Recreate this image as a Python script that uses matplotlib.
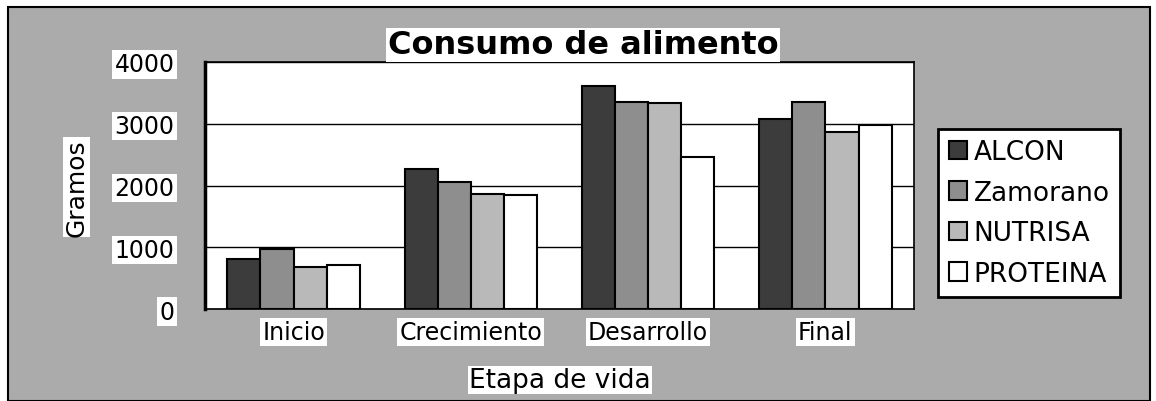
import numpy as np
import matplotlib
matplotlib.use("Agg")
import matplotlib.pyplot as plt
from matplotlib.patches import Rectangle

# ==========================
# Data
# ==========================

etapas = ["Inicio", "Crecimiento", "Desarrollo", "Final"]
series = ["ALCON", "Zamorano", "NUTRISA", "PROTEINA"]

alcon = [810, 2270, 3610, 3080]
zamorano = [970, 2060, 3350, 3350]
nutrisa = [680, 1860, 3340, 2870]
proteina = [710, 1850, 2460, 2980]

y_ticks = [0, 1000, 2000, 3000, 4000]

colores = ["#3c3c3c", "#8e8e8e", "#b9b9b9", "#ffffff"]
fondo = "#ababab"

# ==========================
# Figure
# ==========================

fig = plt.figure(figsize=(11.56, 4.02), dpi=100)
fig.patch.set_facecolor("white")

# gray chart area with frame (behind the axes)
fig.patches.append(
    Rectangle((8 / 1156, 0), 1 - 14 / 1156, 1 - 8 / 402,
              transform=fig.transFigure, facecolor=fondo,
              edgecolor="black", linewidth=1.5, zorder=-10)
)

ax = fig.add_axes([205 / 1156, 1 - 310 / 402, 709 / 1156, 247 / 402])
ax.set_facecolor("white")

x = np.arange(len(etapas))
ancho = 0.187
valores = [alcon, zamorano, nutrisa, proteina]

for i, (nombre, vals) in enumerate(zip(series, valores)):
    ax.bar(x + (i - 1.5) * ancho, vals, width=ancho,
           color=colores[i], edgecolor="black", linewidth=1.5,
           label=nombre, zorder=3)

ax.set_xlim(-0.5, len(etapas) - 0.5)
ax.set_ylim(0, 4000)
ax.set_yticks(y_ticks)
ax.yaxis.grid(True, color="black", linewidth=1.0, zorder=0)
ax.set_axisbelow(True)

lbl_box = dict(facecolor="white", edgecolor="none", pad=1.5)

ax.set_yticklabels([str(v) for v in y_ticks], fontsize=17)
for t in ax.get_yticklabels():
    t.set_bbox(lbl_box)
ax.set_xticks(x)
ax.set_xticklabels(etapas, fontsize=17)
for t in ax.get_xticklabels():
    t.set_bbox(lbl_box)

ax.tick_params(axis="y", length=0, pad=22)
ax.tick_params(axis="x", length=0, pad=8)

for s in ax.spines.values():
    s.set_color("black")
    s.set_linewidth(1.2)
ax.spines["left"].set_linewidth(2.5)

# ==========================
# Titles
# ==========================

fig.text(583 / 1156, 1 - 46 / 402, "Consumo de alimento",
         ha="center", va="center", fontsize=23, fontweight="bold",
         bbox=dict(facecolor="white", edgecolor="none", pad=1))

fig.text(560 / 1156, 1 - 381 / 402, "Etapa de vida",
         ha="center", va="center", fontsize=19,
         bbox=dict(facecolor="white", edgecolor="none", pad=1))

fig.text(77 / 1156, 1 - 188 / 402, "Gramos", rotation=90,
         ha="center", va="center", fontsize=18,
         bbox=dict(facecolor="white", edgecolor="none", pad=1))

# ==========================
# Legend
# ==========================

leg = fig.legend(loc="center left", bbox_to_anchor=(938 / 1156, 1 - 214 / 402),
                 fontsize=19, frameon=True, fancybox=False,
                 handlelength=0.7, handleheight=0.7, handletextpad=0.25,
                 labelspacing=0.55, borderpad=0.4, borderaxespad=0)
leg.get_frame().set_edgecolor("black")
leg.get_frame().set_linewidth(2)
leg.get_frame().set_facecolor("white")
leg.get_frame().set_alpha(1)

plt.savefig("out.png", dpi=100, facecolor=fig.get_facecolor())
plt.close()
